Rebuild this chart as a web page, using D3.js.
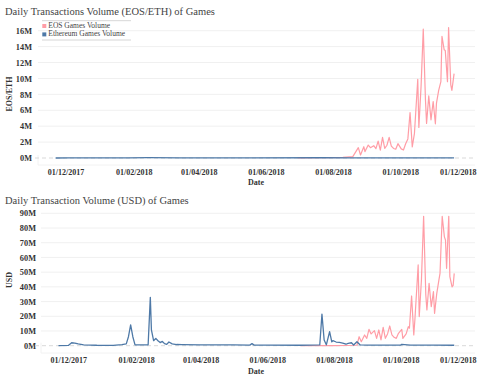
<!DOCTYPE html>
<html><head><meta charset="utf-8">
<script src="https://cdn.jsdelivr.net/npm/d3@7"></script>
<style>
html,body{margin:0;padding:0;background:#fff;}
svg text{font-family:"Liberation Serif","Times New Roman",serif;}
</style></head>
<body>
<svg id="c" width="478" height="382"></svg>
<script>
// ---------- DATA ----------
const xTickDates = ["2017-12-01","2018-02-01","2018-04-01","2018-06-01","2018-08-01","2018-10-01","2018-12-01"];
const xTickLabels = ["01/12/2017","01/02/2018","01/04/2018","01/06/2018","01/08/2018","01/10/2018","01/12/2018"];
const yTicks1 = [0,2,4,6,8,10,12,14,16];
const yTicks2 = [0,10,20,30,40,50,60,70,80,90];
const seriesNames = ["EOS Games Volume","Ethereum Games Volume"];

// Chart 1: volume in native units (EOS / ETH), millions
const eosDates1 = ["2018-06-30","2018-07-20","2018-08-10","2018-08-19","2018-08-24","2018-08-26","2018-08-29","2018-08-30","2018-09-02","2018-09-04","2018-09-07","2018-09-09","2018-09-11","2018-09-13","2018-09-15","2018-09-17","2018-09-19","2018-09-21","2018-09-23","2018-09-25","2018-09-27","2018-09-29","2018-10-02","2018-10-04","2018-10-06","2018-10-08","2018-10-10","2018-10-12","2018-10-14","2018-10-17","2018-10-18","2018-10-20","2018-10-22","2018-10-24","2018-10-25","2018-10-27","2018-10-29","2018-10-31","2018-11-02","2018-11-03","2018-11-05","2018-11-07","2018-11-08","2018-11-10","2018-11-11","2018-11-13","2018-11-14","2018-11-16","2018-11-17","2018-11-19"];
const eosValues1 = [0.02,0.04,0.08,0.17,1.3,0.38,1.42,0.8,1.63,1.3,1.55,1.17,2.13,1.0,2.6,1.2,1.6,2.6,1.5,1.2,1.1,1.8,1.15,1.0,1.8,2.4,5.7,1.4,3.1,9.9,3.85,9.0,16.2,7.3,4.35,7.8,4.8,7.1,4.3,6.9,8.5,9.6,15.3,13.6,13.5,9.6,16.4,9.2,8.5,10.6];
const ethDates1 = ["2017-11-22","2017-12-04","2018-01-27","2018-02-14","2018-03-15","2018-05-18","2018-07-21","2018-08-20","2018-10-01","2018-11-19"];
const ethValues1 = [0.0,0.01,0.02,0.04,0.01,0.01,0.03,0.01,0.01,0.01];

// Chart 2: volume in USD, millions
const eosDates2 = ["2018-07-01","2018-08-01","2018-08-22","2018-08-24","2018-08-26","2018-08-29","2018-08-31","2018-09-02","2018-09-04","2018-09-07","2018-09-09","2018-09-11","2018-09-13","2018-09-15","2018-09-17","2018-09-19","2018-09-21","2018-09-23","2018-09-25","2018-09-27","2018-09-29","2018-10-02","2018-10-03","2018-10-06","2018-10-08","2018-10-09","2018-10-11","2018-10-13","2018-10-14","2018-10-17","2018-10-18","2018-10-20","2018-10-22","2018-10-24","2018-10-25","2018-10-27","2018-10-29","2018-10-31","2018-11-01","2018-11-03","2018-11-05","2018-11-06","2018-11-08","2018-11-10","2018-11-11","2018-11-12","2018-11-14","2018-11-15","2018-11-17","2018-11-18","2018-11-19"];
const eosValues2 = [0.0,0.1,0.3,6.1,2.7,7.3,5.0,11.1,8.0,10.2,5.0,10.7,3.9,12.5,5.0,8.0,13.4,7.3,5.7,5.0,8.4,11.1,5.0,8.0,12.9,11.9,33.8,7.3,17.5,54.9,19.8,44.7,88,34.5,24.3,42.4,26.5,36.7,22.0,35.4,44.7,49.2,88,74,71.9,52.6,88,46.9,40,41,49.2];
const ethDates2 = ["2017-11-22","2017-12-01","2017-12-04","2017-12-07","2017-12-10","2017-12-15","2017-12-27","2018-01-11","2018-01-19","2018-01-23","2018-01-25","2018-01-27","2018-01-29","2018-01-31","2018-02-12","2018-02-14","2018-02-15","2018-02-17","2018-02-19","2018-02-21","2018-02-23","2018-02-25","2018-02-27","2018-03-01","2018-03-03","2018-03-06","2018-03-10","2018-03-15","2018-04-01","2018-05-01","2018-05-16","2018-05-18","2018-05-20","2018-06-01","2018-07-01","2018-07-19","2018-07-21","2018-07-23","2018-07-25","2018-07-28","2018-07-30","2018-07-31","2018-08-03","2018-08-06","2018-08-09","2018-08-12","2018-08-14","2018-08-17","2018-08-19","2018-08-22","2018-08-25","2018-09-01","2018-10-01","2018-10-02","2018-10-10","2018-11-01","2018-11-19"];
const ethValues2 = [0.1,0.2,2.0,1.7,1.2,0.6,0.3,0.2,0.8,1.2,6.1,14.1,6.1,0.6,0.6,32.9,10.7,3.4,5.0,3.4,2.1,2.9,1.4,0.9,2.5,1.2,0.8,0.7,0.6,0.5,0.4,1.4,0.4,0.4,0.3,0.5,21.5,3.9,0.6,9.5,2.6,3.4,2.5,2.2,1.8,1.0,1.6,2.0,0.5,2.7,0.5,0.4,0.4,0.9,0.4,0.4,0.3];

// ---------- DRAW ----------
const parse = d3.timeParse("%Y-%m-%d");
const svg = d3.select("#c");
const EOS_COLOR = "#ff9da6", ETH_COLOR = "#4e79a7";
const domainX = [parse("2017-11-06"), parse("2018-12-08")];

function drawChart(cfg){
  const g = svg.append("g");
  const x = d3.scaleTime().domain(domainX).range([cfg.left, 475]);
  const y = d3.scaleLinear().domain([0, cfg.yTop]).range([cfg.y0, cfg.yTopPx]);

  g.append("text").attr("x",5).attr("y",cfg.titleY).attr("fill","#444")
    .attr("font-size",10.5).text(cfg.title);

  const yAxis = d3.axisLeft(y).tickValues(cfg.yTicks).tickFormat(d=>d+"M").tickSize(0).tickPadding(0);
  const ya = g.append("g").attr("transform",`translate(${cfg.yLabelX},0)`).call(yAxis);
  ya.select(".domain").remove();
  ya.selectAll("text").attr("font-size",8.3).attr("fill","#333").attr("font-weight","bold")
    .attr("font-family","Liberation Serif");
  g.append("g").selectAll("line").data(cfg.yTicks.filter(v=>v>0)).join("line")
    .attr("x1",cfg.left).attr("x2",475).attr("y1",d=>y(d)).attr("y2",d=>y(d))
    .attr("stroke","#f0f0f0").attr("stroke-width",1);

  g.append("line").attr("x1",cfg.left).attr("x2",475).attr("y1",cfg.axisY).attr("y2",cfg.axisY)
    .attr("stroke","#f2f2f2");
  g.append("line").attr("x1",cfg.left).attr("x2",cfg.left).attr("y1",cfg.y0-3).attr("y2",cfg.axisY)
    .attr("stroke","#f2f2f2");

  g.append("line").attr("x1",35).attr("x2",476).attr("y1",y(0)).attr("y2",y(0))
    .attr("stroke","#d9d9d9").attr("stroke-dasharray","4,3");

  const xAxis = d3.axisBottom(x).tickValues(xTickDates.map(parse))
    .tickFormat((d,i)=>xTickLabels[i]).tickSize(0).tickPadding(0);
  const xa = g.append("g").attr("transform",`translate(0,${cfg.xLabelY})`).call(xAxis);
  xa.select(".domain").remove();
  xa.selectAll("text").attr("font-size",8).attr("fill","#333").attr("font-weight","bold")
    .attr("font-family","Liberation Serif").attr("dy","0");
  xa.selectAll(".tick").filter((d,i)=>i===xTickDates.length-1).select("text")
    .attr("text-anchor","end").attr("x", 476 - x(parse(xTickDates[xTickDates.length-1])));

  g.append("text").attr("x",256).attr("y",cfg.dateY).attr("text-anchor","middle")
    .attr("font-size",8).attr("fill","#333").attr("font-weight","bold").text("Date");
  g.append("text").attr("transform",`translate(12,${cfg.yTitleY}) rotate(-90)`)
    .attr("text-anchor","middle").attr("font-size",8).attr("fill","#333").attr("font-weight","bold")
    .text(cfg.yTitle);

  const line = d3.line().x(d=>x(d[0])).y(d=>y(d[1]));
  const ethData = cfg.ethDates.map((d,i)=>[parse(d), cfg.ethValues[i]]);
  const eosData = cfg.eosDates.map((d,i)=>[parse(d), cfg.eosValues[i]]);
  g.append("path").datum(eosData).attr("d",line).attr("fill","none")
    .attr("stroke",EOS_COLOR).attr("stroke-width",1.2).attr("stroke-linejoin","round");
  g.append("path").datum(ethData).attr("d",line).attr("fill","none")
    .attr("stroke",ETH_COLOR).attr("stroke-width",1.3).attr("stroke-linejoin","round");
  return g;
}

drawChart({title:"Daily Transactions Volume (EOS/ETH) of Games", titleY:15,
  left:38, y0:158, yTop:16, yTopPx:30.7, yTicks:yTicks1, yLabelX:32,
  axisY:165, xLabelY:175, dateY:185, yTitle:"EOS/ETH", yTitleY:94,
  eosDates:eosDates1, eosValues:eosValues1, ethDates:ethDates1, ethValues:ethValues1});

drawChart({title:"Daily Transaction Volume (USD) of Games", titleY:204,
  left:41, y0:345.7, yTop:90, yTopPx:213.3, yTicks:yTicks2, yLabelX:36,
  axisY:353, xLabelY:363, dateY:374, yTitle:"USD", yTitleY:280,
  eosDates:eosDates2, eosValues:eosValues2, ethDates:ethDates2, ethValues:ethValues2});

const lg = svg.append("g");
lg.append("line").attr("x1",42).attr("x2",131).attr("y1",20.7).attr("y2",20.7).attr("stroke","#ccc").attr("stroke-width",0.8);
lg.append("line").attr("x1",42).attr("x2",131).attr("y1",40).attr("y2",40).attr("stroke","#ccc").attr("stroke-width",0.8);
const colors = [EOS_COLOR, ETH_COLOR];
const items = lg.selectAll("g.it").data(seriesNames).join("g").attr("class","it")
  .attr("transform",(d,i)=>`translate(42.3,${24 + i*8.4})`);
items.append("rect").attr("width",4).attr("height",4).attr("fill",(d,i)=>colors[i]);
items.append("text").attr("x",6).attr("y",3.8).attr("font-size",7.5).attr("fill","#444").text(d=>d);
</script>
</body></html>
